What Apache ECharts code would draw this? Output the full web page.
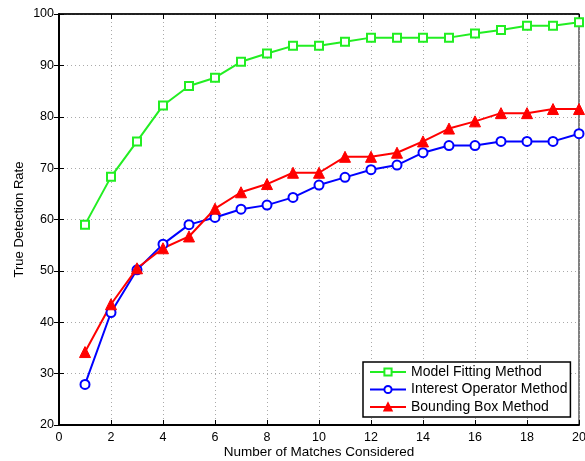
<!DOCTYPE html>
<html>
<head>
<meta charset="utf-8">
<script src="https://cdn.jsdelivr.net/npm/echarts@6/dist/echarts.min.js"></script>
<style>html,body{margin:0;padding:0;background:#fff;}#c{width:585px;height:461px;}</style>
</head>
<body>
<div id="c"></div>
<script>
var matches = [1,2,3,4,5,6,7,8,9,10,11,12,13,14,15,16,17,18,19,20];
var modelFitting = [59.0,68.3,75.2,82.2,86.0,87.6,90.7,92.3,93.8,93.8,94.6,95.4,95.4,95.4,95.4,96.2,96.9,97.7,97.7,98.4];
var interestOperator = [27.9,41.9,50.2,55.2,59.0,60.4,62.0,62.8,64.3,66.7,68.2,69.7,70.6,73.0,74.4,74.4,75.2,75.2,75.2,76.7];
var boundingBox = [34.2,43.5,50.5,54.4,56.7,62.1,65.3,66.9,69.1,69.1,72.2,72.2,73.0,75.2,77.7,79.1,80.7,80.7,81.5,81.5];
var xTicks = [0,2,4,6,8,10,12,14,16,18,20];
var yTicks = [20,30,40,50,60,70,80,90,100];

function pairs(v){ return matches.map(function(m,i){ return [m, v[i]]; }); }

var font = 'Liberation Sans, Arial, sans-serif';
var chart = echarts.init(document.getElementById('c'));
var gridLine = {show:true, lineStyle:{color:'#aaa', type:[1,3], width:1}};
chart.setOption({
  animation:false,
  backgroundColor:'#fff',
  grid:{left:59, right:6, top:14, bottom:36, show:true, borderColor:'#000', borderWidth:1, backgroundColor:'#fff',
        containLabel:false, outerBoundsMode:'none'},
  xAxis:[{
    type:'value', min:xTicks[0], max:xTicks[xTicks.length-1], interval:2,
    name:'Number of Matches Considered', nameLocation:'middle', nameGap:20, nameMoveOverlap:false,
    nameTextStyle:{fontFamily:font, fontSize:13.5, color:'#000'},
    axisLine:{lineStyle:{color:'#000', width:2}},
    axisTick:{inside:true, length:5, lineStyle:{color:'#000'}},
    axisLabel:{fontFamily:font, fontSize:12.5, color:'#000', margin:6},
    splitLine:gridLine
  },{
    type:'value', position:'top', min:xTicks[0], max:xTicks[xTicks.length-1], interval:2,
    axisLine:{lineStyle:{color:'#000', width:1.5}}, axisTick:{inside:true, length:5, lineStyle:{color:'#000'}},
    axisLabel:{show:false}, splitLine:{show:false}
  }],
  yAxis:[{
    type:'value', min:yTicks[0], max:yTicks[yTicks.length-1], interval:10,
    name:'True Detection Rate', nameLocation:'middle', nameGap:33, nameMoveOverlap:false,
    nameTextStyle:{fontFamily:font, fontSize:13, color:'#000'},
    axisLine:{show:true, lineStyle:{color:'#000', width:2}},
    axisTick:{show:true, inside:true, length:5, lineStyle:{color:'#000'}},
    axisLabel:{fontFamily:font, fontSize:12.5, color:'#000', margin:5},
    splitLine:gridLine
  },{
    type:'value', position:'right', min:yTicks[0], max:yTicks[yTicks.length-1], interval:10,
    axisLine:{show:true, lineStyle:{color:'#000', width:1.5}}, axisTick:{show:true, inside:true, length:5, lineStyle:{color:'#000'}},
    axisLabel:{show:false}, splitLine:{show:false}
  }],
  legend:{
    orient:'vertical', left:363, top:362,
    backgroundColor:'#fff', borderColor:'#000', borderWidth:1.5,
    padding:[3,3,3,6], itemGap:3.5, itemWidth:36, itemHeight:9,
    textStyle:{fontFamily:font, fontSize:14, color:'#000'},
    data:['Model Fitting Method','Interest Operator Method','Bounding Box Method']
  },
  series:[{
    name:'Model Fitting Method', type:'line', data:pairs(modelFitting),
    symbol:'rect', symbolSize:8,
    lineStyle:{color:'#22ee22', width:2}, itemStyle:{color:'#fff', borderColor:'#22ee22', borderWidth:2},
    color:'#22ee22'
  },{
    name:'Interest Operator Method', type:'line', data:pairs(interestOperator),
    symbol:'circle', symbolSize:9,
    lineStyle:{color:'#0000ff', width:2}, itemStyle:{color:'#fff', borderColor:'#0000ff', borderWidth:2},
    color:'#0000ff'
  },{
    name:'Bounding Box Method', type:'line', data:pairs(boundingBox),
    symbol:'triangle', symbolSize:11,
    lineStyle:{color:'#ff0000', width:2}, itemStyle:{color:'#ff0000', borderColor:'#ff0000', borderWidth:1},
    color:'#ff0000'
  }]
});
</script>
</body>
</html>
